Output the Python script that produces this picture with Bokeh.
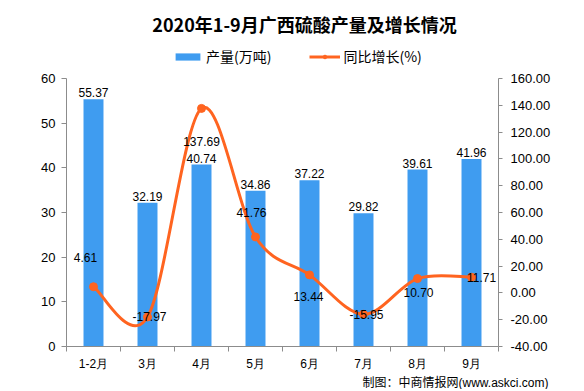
from bokeh.plotting import figure
from bokeh.models import (Range1d, LinearAxis, FixedTicker, NumeralTickFormatter,
                          ColumnDataSource, Label, Legend, LegendItem, Title)
from bokeh.core.properties import value
from bokeh.embed import file_html
from bokeh.resources import INLINE

# ---- data ----
months = ["1-2月", "3月", "4月", "5月", "6月", "7月", "8月", "9月"]
output = [55.37, 32.19, 40.74, 34.86, 37.22, 29.82, 39.61, 41.96]
growth = [4.61, -17.97, 137.69, 41.76, 13.44, -15.95, 10.70, 11.71]
left_ticks = [0, 10, 20, 30, 40, 50, 60]
right_ticks = [-40, -20, 0, 20, 40, 60, 80, 100, 120, 140, 160]
title_text = "2020年1-9月广西硫酸产量及增长情况"
footer_text = "制图：中商情报网(www.askci.com)"
series_names = ["产量(万吨)", "同比增长(%)"]

# label placement offsets for growth labels (pixels)
growth_dx = [-8, 2, 0, -4, -1, 3, 1, 10]
growth_dy = [-29, 0, 33, -24, 22, 0, 14, 0]

BLUE = "#3F9CF0"
ORANGE = "#FF6420"
GRAY = "#8C8C8C"
NUM_FONT = "Liberation Sans"
CJK_FONT = "Noto Sans CJK SC"

# layout (pixels)
W, H = 576, 389
BL, BR, BB = 66, 78, 43      # borders
AXIS_TOP = 78                # pixels from frame top down to the top of the value axes
FRAME_H = H - BB
FRAME_W = W - BL - BR
AXIS_H = FRAME_H - AXIS_TOP

n = len(months)
xs = [i + 0.5 for i in range(n)]
lmin, lmax = left_ticks[0], left_ticks[-1]
rmin, rmax = right_ticks[0], right_ticks[-1]
l_top = lmax + AXIS_TOP * (lmax - lmin) / AXIS_H
r_top = rmax + AXIS_TOP * (rmax - rmin) / AXIS_H

p = figure(width=W, height=H, output_backend="svg", toolbar_location=None,
           x_range=Range1d(0, n), y_range=Range1d(lmin, l_top), title=None,
           min_border_left=BL, min_border_right=BR, min_border_top=0, min_border_bottom=BB)
p.extra_y_ranges = {"right": Range1d(rmin, r_top)}
p.extra_x_ranges = {"off": Range1d(1000, 1001)}
p.outline_line_color = None
p.xgrid.visible = False
p.ygrid.visible = False
p.background_fill_color = "white"
p.border_fill_color = "white"

# bars
src = ColumnDataSource(dict(x=xs, y=output, lbl=[f"{v:.2f}" for v in output]))
p.vbar(x="x", top="y", width=0.37, source=src, color=BLUE, line_color=None)
p.text(x="x", y="y", text="lbl", source=src, text_align="center", text_baseline="bottom",
       y_offset=-2, text_font=value(NUM_FONT), text_font_size="12px", text_color="#000")

# smooth line (Catmull-Rom as cubic Bezier segments)
pts = list(zip(xs, growth))
x0, y0, x1, y1, cx0, cy0, cx1, cy1 = [], [], [], [], [], [], [], []
for i in range(n - 1):
    pa = pts[i - 1] if i > 0 else pts[i]
    pb = pts[i]
    pc = pts[i + 1]
    pd = pts[i + 2] if i + 2 < n else pts[i + 1]
    x0.append(pb[0]); y0.append(pb[1]); x1.append(pc[0]); y1.append(pc[1])
    cx0.append(pb[0] + (pc[0] - pa[0]) / 6); cy0.append(pb[1] + (pc[1] - pa[1]) / 6)
    cx1.append(pc[0] - (pd[0] - pb[0]) / 6); cy1.append(pc[1] - (pd[1] - pb[1]) / 6)
p.bezier(x0=x0, y0=y0, x1=x1, y1=y1, cx0=cx0, cy0=cy0, cx1=cx1, cy1=cy1,
         y_range_name="right", line_color=ORANGE, line_width=3)
gsrc = ColumnDataSource(dict(x=xs, y=growth, lbl=[f"{v:.2f}" for v in growth],
                             dx=growth_dx, dy=growth_dy))
p.scatter(x="x", y="y", source=gsrc, y_range_name="right", size=8,
          fill_color=ORANGE, line_color=ORANGE)
p.text(x="x", y="y", text="lbl", source=gsrc, y_range_name="right",
       x_offset="dx", y_offset="dy", text_align="center", text_baseline="middle",
       text_font=value(NUM_FONT), text_font_size="12px", text_color="#000")

# legend proxies (same data, drawn on an off-screen x range)
l_bar = p.vbar(x="x", top="y", width=0.37, source=src, color=BLUE, line_color=None,
               x_range_name="off")
l_line = p.line(x="x", y="y", source=gsrc, line_color=ORANGE, line_width=3,
                x_range_name="off", y_range_name="right")
l_pt = p.scatter(x="x", y="y", source=gsrc, size=8, fill_color=ORANGE, line_color=ORANGE,
                 x_range_name="off", y_range_name="right")
legend = Legend(items=[LegendItem(label=series_names[0], renderers=[l_bar]),
                       LegendItem(label=series_names[1], renderers=[l_line, l_pt])],
                orientation="horizontal", location=(106, FRAME_H - 56 - 10),
                glyph_width=31, glyph_height=9, label_standoff=3, spacing=38,
                padding=0, margin=0, border_line_color=None, background_fill_alpha=0,
                label_text_font=CJK_FONT, label_text_font_size="14px", label_text_color="#000",
                label_height=16)
p.add_layout(legend, "center")

# title inside the top band of the frame
p.add_layout(Label(x=(304 - BL) / FRAME_W * n, y=l_top - 23 * (lmax - lmin) / AXIS_H,
                   text=title_text, text_align="center", text_baseline="middle",
                   text_font=CJK_FONT, text_font_size="18px", text_font_style="bold",
                   text_color="#000"))

# axes
p.xaxis.ticker = FixedTicker(ticks=xs, minor_ticks=list(range(n + 1)))
p.xaxis.major_label_overrides = {x: m for x, m in zip(xs, months)}
p.xaxis.major_tick_line_color = None
p.xaxis.minor_tick_in = 0
p.xaxis.minor_tick_out = 5
p.xaxis.minor_tick_line_color = GRAY
p.xaxis.axis_line_color = GRAY
p.xaxis.major_label_text_font = NUM_FONT
p.xaxis.major_label_text_font_size = "12px"
p.xaxis.major_label_text_color = "#000"
p.xaxis.major_label_standoff = 4

p.yaxis.ticker = FixedTicker(ticks=left_ticks, minor_ticks=[])
p.yaxis.bounds = (lmin, lmax)
p.yaxis.axis_line_color = GRAY
p.yaxis.major_tick_line_color = GRAY
p.yaxis.major_tick_in = 0
p.yaxis.major_tick_out = 5
p.yaxis.major_label_text_font = NUM_FONT
p.yaxis.major_label_text_font_size = "13px"
p.yaxis.major_label_text_color = "#000"
p.yaxis.major_label_standoff = 6

ra = LinearAxis(y_range_name="right", ticker=FixedTicker(ticks=right_ticks, minor_ticks=[]),
                formatter=NumeralTickFormatter(format="0.00"), bounds=(rmin, rmax))
ra.axis_line_color = GRAY
ra.major_tick_line_color = GRAY
ra.major_tick_in = 0
ra.major_tick_out = 4
ra.major_label_text_font = NUM_FONT
ra.major_label_text_font_size = "13px"
ra.major_label_text_color = "#000"
ra.major_label_standoff = 8
p.add_layout(ra, "right")

# footer below the x axis
p.add_layout(Title(text=footer_text, align="right", offset=-50, standoff=0,
                   text_font=NUM_FONT + ", " + CJK_FONT, text_font_size="12px",
                   text_font_style="normal", text_color="#000"), "below")

open("out.html", "w").write(file_html(p, INLINE))
